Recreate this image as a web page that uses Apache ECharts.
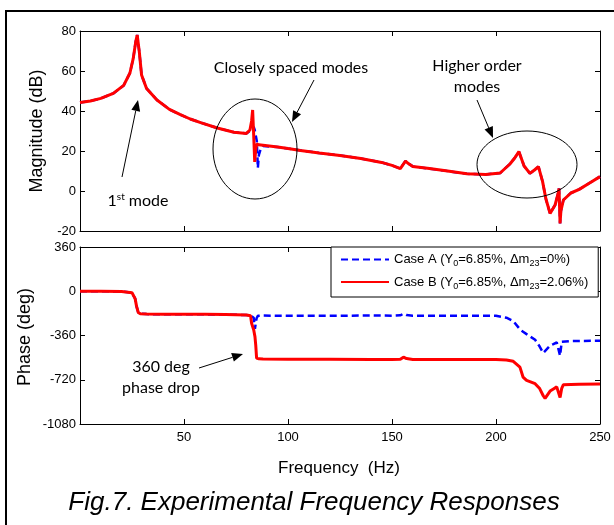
<!DOCTYPE html>
<html>
<head>
<meta charset="utf-8">
<script src="https://cdn.jsdelivr.net/npm/echarts@6/dist/echarts.min.js"></script>
<style>
html,body{margin:0;padding:0;background:#fff;}
#c{width:614px;height:525px;}
</style>
</head>
<body>
<div id="c"></div>
<script>
// ---- Data ----
var magFreq = [0, 5, 10, 16, 21, 24, 25.6, 26.8, 27.5, 28.5, 29.6, 32, 37, 43, 48, 53, 58, 66, 74, 80,
  81.7, 82.5, 83, 83.5, 84, 84.5, 85, 85.5, 86, 87, 88, 95, 100, 106, 115, 125, 135, 145, 150, 154,
  156.5, 157.5, 160, 168, 175, 186, 195, 202, 206.7, 209, 211, 213.5, 216.3, 218.5, 220.4, 222.4,
  224, 226, 228.4, 229.8, 230.3, 230.8, 231.2, 232.4, 236, 240, 245, 250];
var magCaseB = [44.3, 45.0, 46.3, 48.8, 52.8, 59.0, 66.3, 74.7, 78.0, 69.7, 58.0, 51.3, 45.5, 40.8, 38.3, 36.0, 34.2, 31.5, 29.4, 28.8,
  30.5, 35.0, 40.5, 28.0, 14.5, 21.0, 23.5, 23.3, 23.1, 23.0, 22.9, 22.0, 21.2, 20.3, 19.0, 17.8, 16.2, 14.3, 12.8, 11.2,
  15.0, 14.0, 12.3, 11.2, 10.2, 8.6, 8.3, 9.0, 13.5, 16.5, 19.7, 12.5, 8.8, 10.5, 12.2, 4.7,
  -4.0, -11.2, -7.0, -1.5, 1.3, -16.2, -10.0, -4.5, -1.0, 0.8, 4.0, 7.2];
var magCaseA = [44.3, 45.0, 46.3, 48.8, 52.8, 59.0, 66.3, 74.7, 78.0, 69.7, 58.0, 51.3, 45.5, 40.8, 38.3, 36.0, 34.2, 31.5, 29.4, 28.8,
  30.0, 31.5, 32.5, 32.0, 30.5, 31.0, 25.0, 11.5, 18.0, 21.5, 22.5, 22.0, 21.2, 20.3, 19.0, 17.8, 16.2, 14.3, 12.8, 11.2,
  15.0, 14.0, 12.3, 11.2, 10.2, 8.6, 8.3, 9.0, 13.5, 16.5, 19.7, 12.5, 8.8, 10.5, 12.2, 4.7,
  -4.0, -11.2, -7.0, -1.5, 1.3, -16.2, -10.0, -4.5, -1.0, 0.8, 4.0, 7.2];

var phaseFreq = [0, 10, 20, 25, 26.5, 27.2, 28, 29, 32, 40, 50, 60, 70, 80, 82, 82.5, 83.5, 84.1, 84.5, 84.9,
  85.5, 86, 88, 100, 120, 140, 150, 154, 155.5, 157, 160, 180, 200, 205, 208.3, 211.5, 213, 214.7,
  218.8, 219.6, 221, 222.7, 223.6, 226, 227.6, 229.2, 230, 230.8, 231.6, 232.4, 236, 240, 250];
var phaseCaseB = [0, 0, -2, -12, -60, -123, -172, -183, -186, -187, -188, -188, -190, -194, -200, -260, -313, -368, -440, -544,
  -548, -550, -552, -553, -554, -555, -555, -553, -536, -548, -555, -556, -556, -560, -570, -617, -698, -725,
  -752, -760, -792, -850, -872, -812, -795, -778, -780, -864, -790, -760, -758, -756, -754];
var phaseCaseA = [0, 0, -2, -12, -60, -123, -172, -183, -186, -187, -188, -188, -190, -194, -198, -200, -215, -306, -260, -220,
  -200, -198, -198, -199, -200, -197, -199, -196, -183, -194, -199, -200, -200, -215, -242, -309, -330, -349,
  -395, -403, -450, -502, -495, -443, -430, -416, -416, -524, -411, -408, -405, -404, -403];

var xTicks = {min: 0, max: 250, step: 50};
var magTicks = {min: -20, max: 80, step: 20};
var phaseTicks = {min: -1080, max: 360, step: 360};

function pairs(xs, ys) { return xs.map(function (x, i) { return [x, ys[i]]; }); }

var FONT = '"Liberation Sans", Arial, sans-serif';
var ANN = 'Lato, "Open Sans", sans-serif';
var chart = echarts.init(document.getElementById('c'), null, {renderer: 'canvas'});

function xAx(grid, pos, labels) {
  return {
    type: 'value', gridIndex: grid, position: pos, min: xTicks.min, max: xTicks.max, interval: xTicks.step,
    axisLine: {show: true, onZero: false, lineStyle: {color: '#000', width: 1}},
    axisTick: {show: true, inside: true, length: 5, lineStyle: {color: '#000'}},
    axisLabel: {show: labels, showMinLabel: false, color: '#000', fontSize: 13, fontFamily: FONT, margin: 7,
      formatter: function (v) { return String(v); }},
    splitLine: {show: false}
  };
}
function yAx(grid, pos, t, labels) {
  return {
    type: 'value', gridIndex: grid, position: pos, min: t.min, max: t.max, interval: t.step,
    axisLine: {show: true, onZero: false, lineStyle: {color: '#000', width: 1}},
    axisTick: {show: true, inside: true, length: 5, lineStyle: {color: '#000'}},
    axisLabel: {show: labels, color: '#000', fontSize: 13, fontFamily: FONT, margin: 4,
      formatter: function (v) { return String(v); }},
    splitLine: {show: false}
  };
}

function arrow(x1, y1, x2, y2) {
  var dx = x2 - x1, dy = y2 - y1, L = Math.sqrt(dx * dx + dy * dy);
  var ux = dx / L, uy = dy / L, hl = 11, hw = 4.5;
  var bx = x2 - ux * hl, by = y2 - uy * hl;
  return [
    {type: 'line', shape: {x1: x1, y1: y1, x2: bx, y2: by}, style: {stroke: '#000', lineWidth: 1}, z: 100},
    {type: 'polygon', shape: {points: [[x2, y2], [bx - uy * hw, by + ux * hw], [bx + uy * hw, by - ux * hw]]},
      style: {fill: '#000'}, z: 100}
  ];
}
function txt(x, y, s, size, family, extra) {
  var st = {text: s, x: x, y: y, fill: '#000', font: size + 'px ' + family, align: 'center', verticalAlign: 'middle'};
  if (extra) for (var k in extra) st[k] = extra[k];
  return {type: 'text', style: st, z: 100};
}

var graphics = [
  {type: 'rect', shape: {x: 6, y: 11, width: 620, height: 530}, style: {fill: 'none', stroke: '#000', lineWidth: 2}, z: 1},
  {type: 'ellipse', shape: {cx: 255, cy: 149, rx: 42, ry: 50}, style: {fill: 'none', stroke: '#000', lineWidth: 1}, z: 100},
  {type: 'ellipse', shape: {cx: 527, cy: 164.5, rx: 50, ry: 33.5}, style: {fill: 'none', stroke: '#000', lineWidth: 1}, z: 100},
  {type: 'text', z: 100, style: {text: '1{sup|st} mode', x: 138, y: 201, align: 'center', verticalAlign: 'middle',
    fill: '#000', fontSize: 16, fontFamily: ANN,
    rich: {sup: {fontSize: 10, fontFamily: ANN, fill: '#000', padding: [0, 0, 8, 0]}}}},
  txt(291, 68, 'Closely spaced modes', 16, ANN),
  txt(477, 66, 'Higher order', 16, ANN),
  txt(477, 87, 'modes', 16, ANN),
  txt(161, 367, '360 deg', 16, ANN),
  txt(161, 388, 'phase drop', 16, ANN),
  txt(339, 468, 'Frequency  (Hz)', 17, FONT),
  txt(314, 503, 'Fig.7. Experimental Frequency Responses', 26, FONT, {font: 'italic 26px ' + FONT}),
  {type: 'text', z: 100, x: 37, y: 131, rotation: Math.PI / 2,
    style: {text: 'Magnitude (dB)', x: 0, y: 0, align: 'center', verticalAlign: 'middle', fill: '#000', font: '18px ' + FONT}},
  {type: 'text', z: 100, x: 25, y: 337, rotation: Math.PI / 2,
    style: {text: 'Phase (deg)', x: 0, y: 0, align: 'center', verticalAlign: 'middle', fill: '#000', font: '18px ' + FONT}}
].concat(arrow(122, 177, 138, 100), arrow(314, 80, 292, 122), arrow(477, 100, 493, 138), arrow(199, 368, 243, 354));

var legendText = {
  'Case A': 'Case A (Y{sub|0}=6.85%, \u0394m{sub|23}=0%)',
  'Case B': 'Case B (Y{sub|0}=6.85%, \u0394m{sub|23}=2.06%)'
};

var option = {
  animation: false,
  backgroundColor: '#fff',
  grid: [
    {left: 80, top: 31, width: 520, height: 200, show: false},
    {left: 80, top: 247, width: 520, height: 177, show: false}
  ],
  xAxis: [xAx(0, 'bottom', false), xAx(1, 'bottom', true), xAx(0, 'top', false), xAx(1, 'top', false)],
  yAxis: [yAx(0, 'left', magTicks, true), yAx(1, 'left', phaseTicks, true), yAx(0, 'right', magTicks, false), yAx(1, 'right', phaseTicks, false)],
  legend: {
    orient: 'vertical', left: 331, top: 247, padding: [6, 10, 6, 9], itemGap: 7,
    itemWidth: 48, itemHeight: 14, borderColor: '#000', borderWidth: 1, borderRadius: 0,
    backgroundColor: '#fff', data: ['Case A', 'Case B'],
    itemStyle: {color: 'rgba(0,0,0,0)', borderColor: 'rgba(0,0,0,0)', borderWidth: 0},
    formatter: function (n) { return legendText[n]; },
    textStyle: {color: '#000', fontSize: 13, fontFamily: FONT,
      rich: {sub: {fontSize: 9, fontFamily: FONT, color: '#000', padding: [9, 0, 0, 0]}}}
  },
  series: [
    {name: 'Case A', type: 'line', xAxisIndex: 0, yAxisIndex: 0, data: pairs(magFreq, magCaseA), symbol: 'none',
      lineStyle: {color: '#0000ff', width: 2.5, type: [7, 4]}, itemStyle: {color: '#0000ff'}, z: 2},
    {name: 'Case B', type: 'line', xAxisIndex: 0, yAxisIndex: 0, data: pairs(magFreq, magCaseB), symbol: 'none',
      lineStyle: {color: '#ff0000', width: 3}, itemStyle: {color: '#ff0000'}, z: 3},
    {name: 'Case A', type: 'line', xAxisIndex: 1, yAxisIndex: 1, data: pairs(phaseFreq, phaseCaseA), symbol: 'none',
      lineStyle: {color: '#0000ff', width: 2.5, type: [7, 4]}, itemStyle: {color: '#0000ff'}, z: 2},
    {name: 'Case B', type: 'line', xAxisIndex: 1, yAxisIndex: 1, data: pairs(phaseFreq, phaseCaseB), symbol: 'none',
      lineStyle: {color: '#ff0000', width: 3}, itemStyle: {color: '#ff0000'}, z: 3}
  ],
  graphic: graphics
};
chart.setOption(option);
</script>
</body>
</html>
